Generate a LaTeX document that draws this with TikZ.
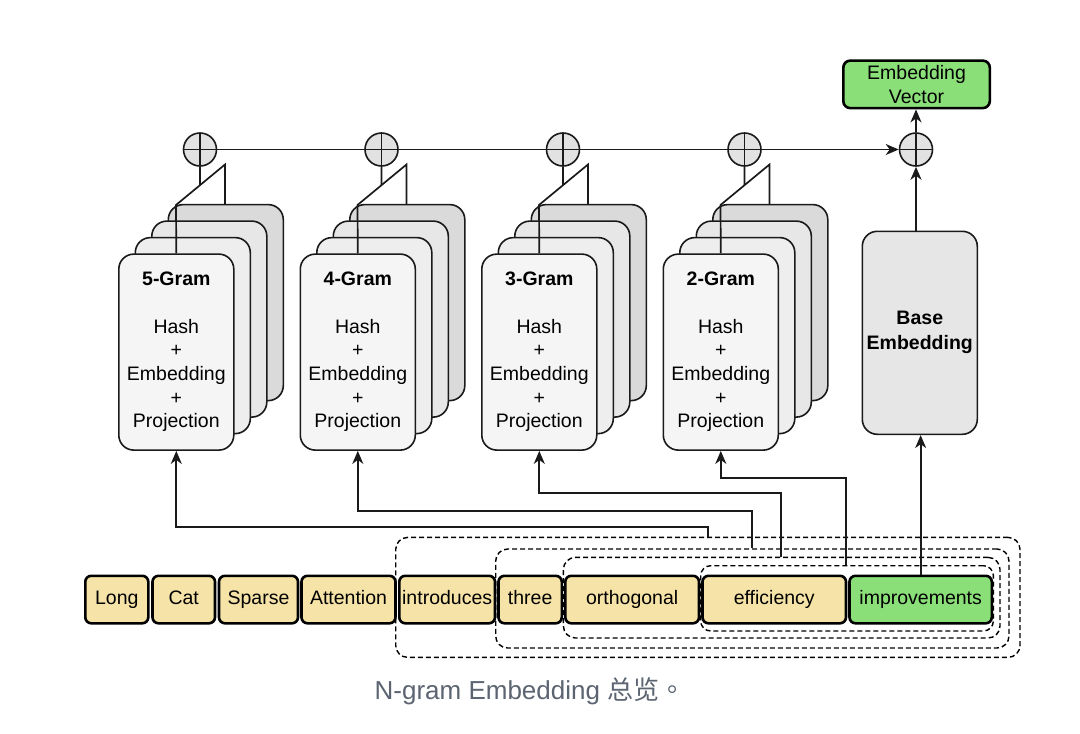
\documentclass[tikz,border=0pt]{standalone}
\usepackage{fontspec}
\setmainfont{Liberation Sans}
\newfontfamily\cjkfont{Noto Sans CJK SC}
\newfontfamily\cjktc{Noto Sans CJK TC}
\usetikzlibrary{arrows.meta,calc}
\definecolor{tokY}{HTML}{F6E3A7}
\definecolor{tokG}{HTML}{8ADF78}
\definecolor{cardA}{HTML}{F5F5F5}
\definecolor{cardB}{HTML}{EEEEEE}
\definecolor{cardC}{HTML}{E7E7E7}
\definecolor{cardD}{HTML}{DADADA}
\definecolor{baseF}{HTML}{E6E6E6}
\definecolor{plusF}{HTML}{E2E2E2}
\definecolor{lineC}{HTML}{1A1A1A}
\definecolor{capC}{HTML}{5B6470}
\begin{document}
\begin{tikzpicture}[x=1pt,y=-1pt,
  every node/.style={font=\fontsize{19.5}{23.7}\selectfont},
  card/.style={draw=lineC, line width=1.6pt, rounded corners=15pt, minimum width=115pt,
    minimum height=196pt, anchor=north west, inner sep=0pt, align=center},
  tok/.style={draw=black, line width=2.6pt, rounded corners=6pt, fill=tokY,
    minimum height=47.5pt, inner sep=0pt, anchor=north west, text height=14pt, text depth=4pt},
  dashbox/.style={draw=black, line width=1.4pt, dash pattern=on 5pt off 3pt,
    rounded corners=12pt, anchor=north west, inner sep=0pt},
  plus/.style={circle, draw=lineC, line width=1.6pt, fill=plusF, minimum size=33pt, inner sep=0pt,
    path picture={\draw[line width=1.6pt, lineC] (path picture bounding box.north) -- (path picture bounding box.south)
      (path picture bounding box.west) -- (path picture bounding box.east);}},
  conn/.style={line width=1.7pt, draw=lineC},
  arr/.style={conn, -{Stealth[length=13pt,width=11pt,inset=4pt]}}
]
\useasboundingbox (0,0) rectangle (1080,734);

% N-gram card stacks
\foreach \k/\n in {0/5,1/4,2/3,3/2}{
  \pgfmathsetmacro\xo{118+181.5*\k}
  \node[card, fill=cardD] (kc\k) at (\xo+49.5, 253.3-49.5) {};
  \node[card, fill=cardC] (kb\k) at (\xo+33, 253.3-33) {};
  \node[card, fill=cardB] (ka\k) at (\xo+16.5, 253.3-16.5) {};
  \node[card, fill=cardA] (f\k) at (\xo, 253.3)
    {\textbf{\n-Gram}\\[23.7pt]Hash\\+\\Embedding\\+\\Projection};
  \node[plus] (c\k) at (\xo+82, 149.5) {};
  \coordinate (ba\k) at (\xo+58, 205);
  \coordinate (bb\k) at (\xo+107, 164.5);
  \draw[conn] (f\k.north) -- (ba\k) -- (bb\k) -- (bb\k |- kc\k.north);
  \draw[conn] (c\k.south) -- ($(ba\k)!0.49!(bb\k)$);
}

% base embedding and output
\node[draw=lineC, line width=1.6pt, rounded corners=15pt, fill=baseF, minimum width=115pt,
  minimum height=203pt, anchor=north west, inner sep=0pt, align=center,
  font=\fontsize{19.5}{25}\selectfont\bfseries] (base) at (861.5, 230.5) {Base\\Embedding};
\node[plus] (cf) at (916, 149.5) {};
\node[draw=black, line width=2.6pt, rounded corners=7pt, fill=tokG, minimum width=146.5pt,
  minimum height=47.5pt, anchor=north west, inner sep=0pt, align=center] (ev) at (842, 59.3)
  {Embedding\\Vector};

\draw[conn] (c0.east) -- (c1.west) (c1.east) -- (c2.west) (c2.east) -- (c3.west);
\draw[arr] (c3.east) -- (cf.west);
\draw[arr] (base.north -| cf.center) -- (cf.south);
\draw[arr] (cf.north) -- (ev.south -| cf.center);

% dashed n-gram windows
\node[dashbox, minimum width=624.3pt, minimum height=120pt] (g5) at (395, 536.7) {};
\node[dashbox, minimum width=513.3pt, minimum height=99pt] (g4) at (495, 548.3) {};
\node[dashbox, minimum width=436.6pt, minimum height=80.6pt] (g3) at (562.7, 556.7) {};
\node[dashbox, minimum width=292.7pt, minimum height=65.3pt, rounded corners=10pt] (g2) at (700, 565) {};

% tokens
\node[tok, minimum width=63pt] (t1) at (84, 574.5) {Long};
\node[tok, minimum width=62.5pt] (t2) at (151.2, 574.5) {Cat};
\node[tok, minimum width=79pt] (t3) at (217.7, 574.5) {Sparse};
\node[tok, minimum width=94pt] (t4) at (300.2, 574.5) {Attention};
\node[tok, minimum width=95.7pt] (t5) at (398, 574.5) {introduces};
\node[tok, minimum width=63.3pt] (t6) at (497.2, 574.5) {three};
\node[tok, minimum width=133.7pt] (t7) at (564, 574.5) {orthogonal};
\node[tok, minimum width=143.5pt] (t8) at (701.2, 574.5) {efficiency};
\node[tok, minimum width=142.3pt, fill=tokG] (t9) at (848.2, 574.5) {improvements};

% connectors from windows to n-gram stacks
\coordinate (s0) at (707.7, 0);
\coordinate (s1) at (752.3, 0);
\coordinate (s2) at (781, 0);
\coordinate (s3) at (845.7, 0);
\draw[arr] (s0 |- g5.north) -- ++(0,-9.4) -| (f0.south);
\draw[arr] (s1 |- g4.north) -- ++(0,-37.6) -| (f1.south);
\draw[arr] (s2 |- g3.north) -- ++(0,-63.4) -| (f2.south);
\draw[arr] (s3 |- g2.north) -- ++(0,-87.3) -| (f3.south);
\draw[arr] (t9.north) -- (base.south -| t9.north);

% caption
\node[text=capC, font=\fontsize{26}{31}\selectfont, inner sep=0pt] (cap) at (530, 691)
  {N-gram Embedding {\cjkfont 总览}{\cjktc 。}};
\end{tikzpicture}
\end{document}
